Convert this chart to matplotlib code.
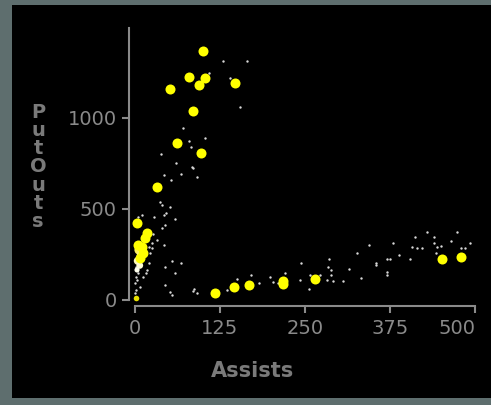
import matplotlib
matplotlib.use("Agg")
import matplotlib.pyplot as plt
from matplotlib.patches import Rectangle

# big yellow markers (Assists, PutOuts)
yellow_x = [99.5, 79, 103, 94, 52, 147.5, 85, 62, 97, 32,
            3.4, 17.6, 15, 4.4, 11, 12, 7,
            118, 145, 168, 218, 218, 265, 452, 479]
yellow_y = [1370, 1227, 1218, 1181, 1159, 1194, 1040, 864, 808, 623,
            425, 370, 339, 302, 293, 256, 229,
            40, 73, 82, 86, 104, 117, 227, 238]

# small yellow mark sitting on the axis
low_x = [2]
low_y = [12]

# pale yellow points fading into the white cluster near zero
pale_x = [6, 9, 4, 7, 3]
pale_y = [275, 245, 215, 190, 165]
pale_c = ['#fff25a', '#fff690', '#fffab8', '#fffcd8', '#ffffee']
pale_s = [45, 40, 32, 24, 14]

# small white points
white_x = [129, 164, 109, 140, 155, 70, 80, 103, 82, 38, 61, 84, 86, 91, 68,
           53, 43, 37, 40, 51, 46, 42, 59, 28, 39, 44, 27, 32, 43, 25, 44, 55,
           68, 59, 44, 52, 55, 87, 91, 85, 135, 143, 150, 171, 183, 198, 203,
           221, 211, 244, 242, 257, 256, 272, 286, 284, 288, 288, 283, 291, 306,
           315, 327, 333, 344, 354, 355, 370, 370, 371, 375, 379, 388, 405, 407,
           412, 414, 422, 430, 440, 439, 444, 450, 465, 473, 479, 485, 492, 443,
           2, 5, 0, 2, 7, 10, 12, 17, 20, 22, 16, 20, 25, 5, 10, 1, 3, 0]
white_y = [1315, 1315, 1249, 1218, 1062, 943, 875, 888, 842, 800, 755, 733, 723,
           678, 690, 659, 687, 537, 522, 513, 476, 467, 445, 458, 394, 412, 361,
           330, 302, 284, 183, 214, 205, 147, 82, 46, 27, 59, 40, 51, 55, 77, 114,
           136, 95, 128, 101, 147, 92, 205, 110, 137, 62, 139, 227, 183, 165, 136,
           110, 106, 104, 172, 260, 119, 302, 190, 201, 223, 156, 136, 227, 315,
           245, 227, 289, 344, 284, 284, 372, 348, 311, 293, 299, 326, 372, 284,
           284, 315, 256,
           183, 147, 92, 55, 73, 220, 128, 165, 201, 256, 147, 293, 311, 458, 467,
           128, 110, 37]

x_ticks = [0, 125, 250, 375, 500]
y_ticks = [0, 500, 1000]

W, H = 491, 405
fig = plt.figure(figsize=(W / 100, H / 100), dpi=100)
fig.patch.set_facecolor('#5e6e6e')
# black panel inside the window frame (frame on left, top and bottom only)
fig.patches.append(Rectangle((12 / W, 7 / H), 1.0, 1 - 12 / H,
                             transform=fig.transFigure, facecolor='black',
                             edgecolor='none', zorder=-10))

ax = fig.add_axes([129 / W, 99 / H, 356 / W, 278 / H])
ax.set_facecolor('black')
ax.set_xlim(-8.8, 514.7)
ax.set_ylim(-33, 1494.5)

ax.scatter(white_x, white_y, s=3, c='#d8d8d8', linewidths=0, zorder=2)
ax.scatter(pale_x, pale_y, s=pale_s, c=pale_c, linewidths=0, zorder=3)
ax.scatter(low_x, low_y, s=16, c='#e8e000', linewidths=0, zorder=3)
ax.scatter(yellow_x, yellow_y, s=52, c='#ffff00', linewidths=0, zorder=4)

grey = '#8a8a8a'
for side in ['top', 'right']:
    ax.spines[side].set_visible(False)
ax.spines['left'].set_bounds(0, 1494.5)
ax.spines['bottom'].set_bounds(0, 500)
for side in ['left', 'bottom']:
    ax.spines[side].set_color(grey)
    ax.spines[side].set_linewidth(1.5)

ax.set_xticks(x_ticks)
ax.set_yticks(y_ticks)
ax.tick_params(colors=grey, labelcolor=grey, length=5, width=1.5,
               labelsize=14, pad=4)
ax.get_xticklabels()[-1].set_horizontalalignment('right')

fig.text(253 / W, 1 - 371 / H, 'Assists', color='#7a7a7a', fontsize=15,
         fontweight='bold', ha='center', va='center')
fig.text(38 / W, 1 - 167 / H, 'P\nu\nt\nO\nu\nt\ns', color='#7a7a7a',
         fontsize=14, fontweight='bold', ha='center', va='center',
         linespacing=0.95)

fig.savefig('out.png', dpi=100, facecolor=fig.get_facecolor())
